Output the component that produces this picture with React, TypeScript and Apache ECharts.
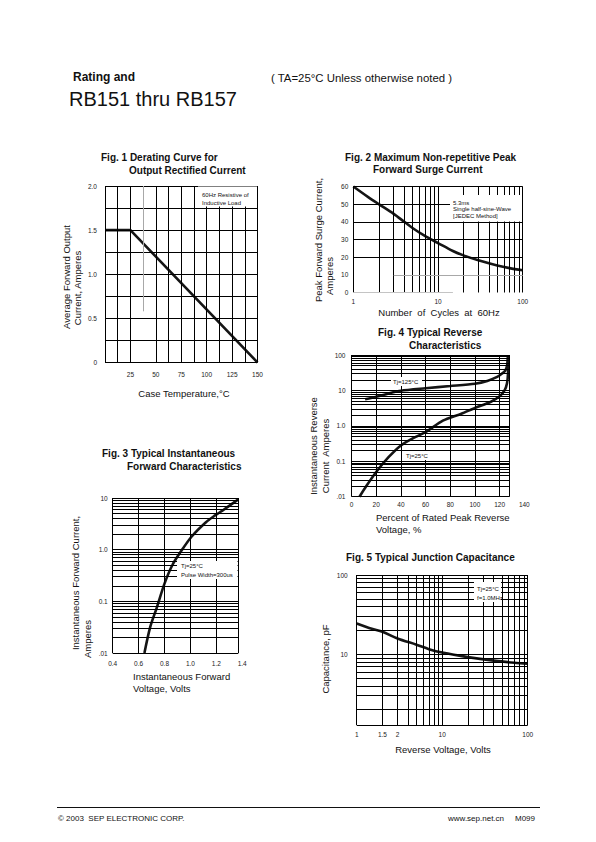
import React, { useEffect, useRef } from 'react';
import * as echarts from 'echarts';

const FONT = '"Liberation Sans", Arial, Helvetica, sans-serif';

// ---------------- Fig. 1 Derating curve ----------------
const fig1CaseTemp = [0, 25, 150];
const fig1AvgCurrent = [1.5, 1.5, 0];
const fig1XTicks = [25, 50, 75, 100, 125, 150];
const fig1XLabels = ['25', '50', '75', '100', '125', '150'];
const fig1YTicks = [0, 0.5, 1, 1.5, 2];
const fig1YLabels = ['0', '0.5', '1.0', '1.5', '2.0'];
const fig1XGrid = [0, 12.5, 25, 50, 62.5, 75, 87.5, 100, 112.5, 125, 137.5, 150];
const fig1YGrid = [0, 0.25, 0.5, 0.75, 1, 1.25, 1.5, 1.75, 2];

// ---------------- Fig. 2 Surge current ----------------
const fig2Cycles = [1, 1.5, 2, 3, 4, 5, 7, 10, 15, 20, 30, 50, 70, 100];
const fig2Surge = [60, 54, 50, 44.5, 40, 36.5, 32, 28, 23.5, 21, 18.2, 15.3, 13.8, 12.6];
const fig2XTicks = [1, 10, 100];
const fig2XLabels = ['1', '10', '100'];
const fig2YTicks = [0, 10, 20, 30, 40, 50, 60];
const fig2YLabels = ['0', '10', '20', '30', '40', '50', '60'];
const fig2XGrid = [1, 2, 3, 4, 5, 6, 7, 8, 9, 10, 20, 30, 40, 50, 60, 70, 80, 90, 100];
const fig2YGrid = [20, 30, 40, 50, 60];

// ---------------- Fig. 3 Forward characteristics ----------------
const fig3Voltage = [0.645, 0.69, 0.74, 0.8, 0.86, 0.93, 1.01, 1.12, 1.19, 1.26, 1.37];
const fig3Current = [0.01, 0.032, 0.075, 0.22, 0.5, 0.95, 1.8, 3.4, 4.6, 6.0, 9.4];
const fig3XTicks = [0.4, 0.6, 0.8, 1.0, 1.2, 1.4];
const fig3XLabels = ['0.4', '0.6', '0.8', '1.0', '1.2', '1.4'];
const fig3YTicks = [0.01, 0.1, 1, 10];
const fig3YLabels = ['.01', '0.1', '1.0', '10'];
const fig3XGrid = [0.4, 0.6, 0.8, 1.0, 1.2, 1.37];
const fig3PlotXMax = 1.37;

// ---------------- Fig. 4 Reverse characteristics ----------------
const fig4Pct125 = [11, 20, 30, 40, 60, 80, 100, 110, 118, 122, 124.5, 126, 126.8];
const fig4Cur125 = [5.6, 6.6, 8.2, 9.8, 11.5, 13.3, 15.5, 18.5, 24, 30, 36, 50, 100];
const fig4Pct25 = [6.5, 12, 20, 30, 40, 50, 60, 74, 89, 100, 113, 120, 124, 126, 126.8, 127];
const fig4Cur25 = [0.01, 0.02, 0.05, 0.13, 0.28, 0.45, 0.66, 1.4, 2.2, 3.2, 4.8, 6.8, 10, 16, 30, 100];
const fig4XTicks = [0, 20, 40, 60, 80, 100, 120, 140];
const fig4XLabels = ['0', '20', '40', '60', '80', '100', '120', '140'];
const fig4YTicks = [0.01, 0.1, 1, 10, 100];
const fig4YLabels = ['.01', '0.1', '1.0', '10', '100'];
const fig4XGrid = [0, 20, 40, 60, 80, 100, 120, 128];
const fig4PlotXMax = 128;

// ---------------- Fig. 5 Junction capacitance ----------------
const fig5Voltage = [1, 1.5, 2, 3, 5, 7, 10, 20, 40, 70, 100];
const fig5Capacitance = [24.5, 21, 19.2, 15.8, 13.2, 11.6, 10.5, 9.2, 8.3, 7.8, 7.6];
const fig5XTicks = [1, 2, 3, 10, 100];
const fig5XLabels = ['1', '1.5', '2', '10', '100'];
const fig5YTicks = [10, 100];
const fig5YLabels = ['10', '100'];
const fig5XGrid = [1, 2, 3, 4, 5, 6, 7, 8, 9, 10, 20, 30, 40, 50, 60, 70, 80, 90, 100];
const fig5YMin = 1.28;

const logSteps = [1, 2, 3, 4, 5, 6, 7, 8, 9];

function logGrid(decades: number[], top: number, min = 0): number[] {
  const out: number[] = [];
  decades.forEach((d) => logSteps.forEach((s) => {
    const v = +(d * s).toPrecision(6);
    if (v >= min) out.push(v);
  }));
  out.push(top);
  if (min > 0 && out[0] !== min) out.unshift(min);
  return out;
}

const zip = (a: number[], b: number[]) => a.map((v, i) => [v, b[i]]);

const pick = (vals: number[], labels: string[]) => (v: number) => {
  let b = 0;
  for (let i = 1; i < vals.length; i++) if (Math.abs(vals[i] - v) < Math.abs(vals[b] - v)) b = i;
  return labels[b];
};

const GRID_STYLE = { color: '#000', width: 1, type: 'solid' as const };

function segs(xs: number[], ys: number[], x0: number, x1: number, y0: number, y1: number, extra: any[] = []) {
  const out: any[] = [];
  xs.forEach((x) => out.push([{ coord: [x, y0] }, { coord: [x, y1] }]));
  ys.forEach((y) => out.push([{ coord: [x0, y] }, { coord: [x1, y] }]));
  return out.concat(extra);
}

function markLine(data: any[]) {
  return {
    silent: true,
    symbol: ['none', 'none'],
    label: { show: false },
    emphasis: { disabled: true },
    lineStyle: GRID_STYLE,
    animation: false,
    data,
  };
}

function curve(idx: number, data: number[][], ml: any, smooth: number | boolean = 0.3) {
  return {
    type: 'line',
    xAxisIndex: idx,
    yAxisIndex: idx,
    data,
    smooth,
    showSymbol: false,
    symbol: 'none',
    clip: false,
    silent: true,
    lineStyle: { color: '#151515', width: 2.6 },
    z: 3,
    markLine: ml,
  };
}

function axisLabel(vals: number[], labels: string[], margin: number) {
  return {
    customValues: vals,
    formatter: pick(vals, labels),
    fontSize: 6.5,
    color: '#222',
    fontFamily: FONT,
    margin,
    showMinLabel: true,
    showMaxLabel: true,
    hideOverlap: false,
  };
}

function baseAxis(extra: any) {
  return {
    axisLine: { show: false },
    axisTick: { show: false },
    splitLine: { show: false },
    minorTick: { show: false },
    minorSplitLine: { show: false },
    ...extra,
  };
}

type T = { t: string; x: number; y: number; size?: number; bold?: boolean; align?: string; rot?: boolean; color?: string };

function txt(o: T) {
  return {
    type: 'text',
    x: o.x,
    y: o.y,
    rotation: o.rot ? Math.PI / 2 : 0,
    z: 60,
    silent: true,
    style: {
      text: o.t,
      fill: o.color || '#111',
      fontSize: o.size || 9.5,
      fontWeight: o.bold ? 'bold' : 'normal',
      fontFamily: FONT,
      align: o.align || 'left',
      textAlign: o.align || 'left',
      verticalAlign: 'middle',
      textVerticalAlign: 'middle',
    },
  };
}

function box(x: number, y: number, w: number, h: number) {
  return { type: 'rect', z: 50, silent: true, shape: { x, y, width: w, height: h }, style: { fill: '#fff' } };
}

export default function App() {
  const ref = useRef<HTMLDivElement>(null);

  useEffect(() => {
    if (!ref.current) return;
    const chart = echarts.init(ref.current, null, { renderer: 'svg' });

    const fig3YGrid = logGrid([0.01, 0.1, 1], 10);
    const fig4YGrid = logGrid([0.01, 0.1, 1, 10], 100);
    const fig5YGrid = logGrid([1, 10], 100, fig5YMin);

    const grids = [
      { left: 105, top: 186, width: 152.5, height: 176.5 },
      { left: 353.3, top: 186.5, width: 169.4, height: 106 },
      { left: 112.7, top: 498, width: 129.5, height: 155 },
      { left: 351.5, top: 355, width: 172.8, height: 141.7 },
      { left: 356.7, top: 575, width: 171, height: 150 },
    ].map((g) => ({ ...g, show: false, containLabel: false, outerBoundsMode: 'none' }));

    const xAxes = [
      baseAxis({ type: 'value', gridIndex: 0, min: 0, max: 150, axisLabel: axisLabel(fig1XTicks, fig1XLabels, 8) }),
      baseAxis({ type: 'log', logBase: 10, gridIndex: 1, min: 1, max: 100, axisLabel: axisLabel(fig2XTicks, fig2XLabels, 5) }),
      baseAxis({ type: 'value', gridIndex: 2, min: 0.4, max: 1.4, axisLabel: axisLabel(fig3XTicks, fig3XLabels, 7) }),
      baseAxis({ type: 'value', gridIndex: 3, min: 0, max: 140, axisLabel: axisLabel(fig4XTicks, fig4XLabels, 4) }),
      baseAxis({ type: 'log', logBase: 10, gridIndex: 4, min: 1, max: 100, axisLabel: axisLabel(fig5XTicks, fig5XLabels, 6) }),
    ];
    const yAxes = [
      baseAxis({ type: 'value', gridIndex: 0, min: 0, max: 2, axisLabel: axisLabel(fig1YTicks, fig1YLabels, 8) }),
      baseAxis({ type: 'value', gridIndex: 1, min: 0, max: 60, axisLabel: axisLabel(fig2YTicks, fig2YLabels, 5) }),
      baseAxis({ type: 'log', logBase: 10, gridIndex: 2, min: 0.01, max: 10, axisLabel: axisLabel(fig3YTicks, fig3YLabels, 5) }),
      baseAxis({ type: 'log', logBase: 10, gridIndex: 3, min: 0.01, max: 100, axisLabel: axisLabel(fig4YTicks, fig4YLabels, 6) }),
      baseAxis({ type: 'log', logBase: 10, gridIndex: 4, min: fig5YMin, max: 100, axisLabel: axisLabel(fig5YTicks, fig5YLabels, 9) }),
    ];

    const gray = { color: '#a8a8a8', width: 1, type: 'solid' };

    const series = [
      curve(0, zip(fig1CaseTemp, fig1AvgCurrent), markLine(segs(fig1XGrid, fig1YGrid, 0, 150, 0, 2, [
        [{ coord: [37.5, 0.58], lineStyle: gray }, { coord: [37.5, 2] }],
      ])), false),
      curve(1, zip(fig2Cycles, fig2Surge), markLine(segs(fig2XGrid, fig2YGrid, 1, 100, 0, 60, [
        [{ coord: [3, 10], lineStyle: gray }, { coord: [100, 10] }],
        [{ coord: [1, 0], lineStyle: { ...gray, color: '#c4c4c4' } }, { coord: [15, 0] }],
      ]))),
      curve(2, zip(fig3Voltage, fig3Current), markLine(segs(fig3XGrid, fig3YGrid, 0.4, fig3PlotXMax, 0.01, 10))),
      curve(3, zip(fig4Pct125, fig4Cur125), markLine(segs(fig4XGrid, fig4YGrid, 0, fig4PlotXMax, 0.01, 100)), 0.25),
      curve(3, zip(fig4Pct25, fig4Cur25), undefined, 0.25),
      curve(4, zip(fig5Voltage, fig5Capacitance), markLine(segs(fig5XGrid, fig5YGrid, 1, 100, fig5YMin, 100))),
    ];

    const texts: T[] = [
      // header
      { t: 'Rating and', x: 73, y: 77, size: 12, bold: true },
      { t: 'RB151 thru RB157', x: 69, y: 99, size: 20 },
      { t: '( TA=25°C Unless otherwise noted )', x: 271, y: 78, size: 11.4 },
      // Fig 1
      { t: 'Fig. 1 Derating Curve for', x: 101, y: 157, size: 10, bold: true },
      { t: 'Output Rectified Current', x: 129, y: 170, size: 10, bold: true },
      { t: 'Case Temperature,°C', x: 184, y: 393, align: 'center' },
      { t: 'Average Forward Output', x: 66, y: 277, align: 'center', rot: true },
      { t: 'Current, Amperes', x: 77, y: 288, align: 'center', rot: true },
      { t: '60Hz Resistive of', x: 202, y: 195, size: 6 },
      { t: 'Inductive Load', x: 202, y: 203, size: 6 },
      // Fig 2
      { t: 'Fig. 2 Maximum Non-repetitive Peak', x: 345, y: 157, size: 10, bold: true },
      { t: 'Forward Surge Current', x: 373, y: 169, size: 10, bold: true },
      { t: 'Number  of  Cycles  at  60Hz', x: 439, y: 312, align: 'center' },
      { t: 'Peak Forward Surge Current,', x: 318.5, y: 240, align: 'center', rot: true },
      { t: 'Amperes', x: 329.5, y: 276, align: 'center', rot: true },
      { t: '5.3ms', x: 453, y: 202.5, size: 6 },
      { t: 'Single half-sine-Wave', x: 453, y: 209, size: 6 },
      { t: '[JEDEC Method]', x: 453, y: 215.5, size: 6 },
      // Fig 3
      { t: 'Fig. 3 Typical Instantaneous', x: 102, y: 453, size: 10, bold: true },
      { t: 'Forward Characteristics', x: 127, y: 466, size: 10, bold: true },
      { t: 'Instantaneous Forward', x: 133, y: 676 },
      { t: 'Voltage, Volts', x: 133, y: 688 },
      { t: 'Instantaneous Forward Current,', x: 75, y: 583, align: 'center', rot: true },
      { t: 'Amperes', x: 87, y: 639, align: 'center', rot: true },
      { t: 'Tj=25°C', x: 181, y: 566, size: 6 },
      { t: 'Pulse Width=300us', x: 181, y: 575, size: 6 },
      // Fig 4
      { t: 'Fig. 4 Typical Reverse', x: 378, y: 332, size: 10, bold: true },
      { t: 'Characteristics', x: 409, y: 345, size: 10, bold: true },
      { t: 'Percent of Rated Peak Reverse', x: 376, y: 517 },
      { t: 'Voltage, %', x: 376, y: 529 },
      { t: 'Instantaneous Reverse', x: 313, y: 446, align: 'center', rot: true },
      { t: 'Current  Amperes', x: 325, y: 456, align: 'center', rot: true },
      { t: 'Tj=125°C', x: 393, y: 381.5, size: 6 },
      { t: 'Tj=25°C', x: 406, y: 455.5, size: 6 },
      // Fig 5
      { t: 'Fig. 5 Typical Junction Capacitance', x: 346, y: 557, size: 10, bold: true },
      { t: 'Reverse Voltage, Volts', x: 443, y: 749, align: 'center' },
      { t: 'Capacitance, pF', x: 325, y: 659, align: 'center', rot: true },
      { t: 'Tj=25°C', x: 477, y: 588.5, size: 6 },
      { t: 'f=1.0MHz', x: 477, y: 597.5, size: 6 },
      // footer
      { t: '© 2003  SEP ELECTRONIC CORP.', x: 58, y: 818, size: 8 },
      { t: 'www.sep.net.cn', x: 448, y: 818, size: 8 },
      { t: 'M099', x: 515, y: 818, size: 8 },
    ];

    const graphic = [
      box(198, 186.5, 59, 20),
      box(450, 195, 72, 26.5),
      box(177, 561, 60.5, 18),
      box(391, 377, 31, 9),
      box(404, 451, 29, 9),
      box(474, 582, 27, 20),
      { type: 'line', z: 50, silent: true, shape: { x1: 57, y1: 807.5, x2: 540, y2: 807.5 }, style: { stroke: '#111', lineWidth: 1 } },
      ...texts.map(txt),
    ];

    chart.setOption({
      animation: false,
      backgroundColor: '#fff',
      textStyle: { fontFamily: FONT },
      grid: grids,
      xAxis: xAxes,
      yAxis: yAxes,
      series,
      graphic: { elements: graphic },
    });

    return () => chart.dispose();
  }, []);

  return <div ref={ref} style={{ position: 'absolute', left: 0, top: 0, width: 596, height: 842 }} />;
}
